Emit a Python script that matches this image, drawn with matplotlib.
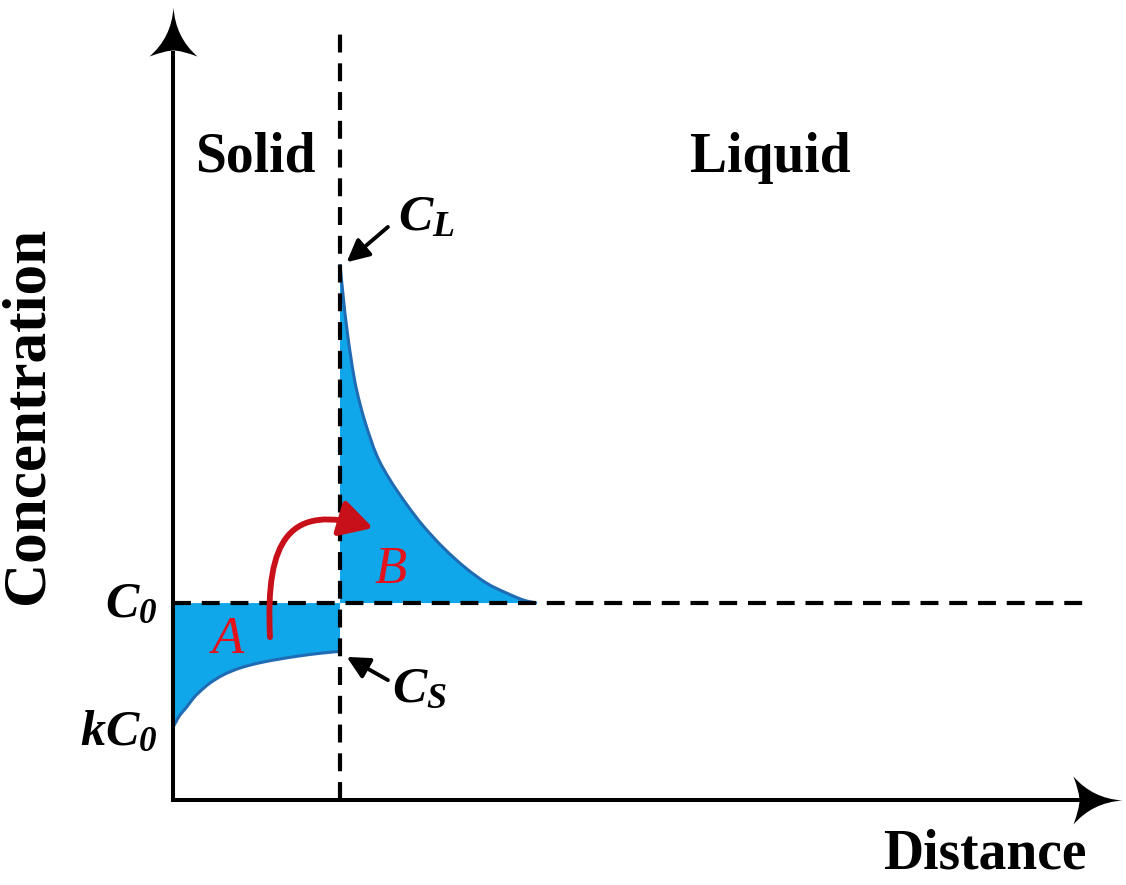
import numpy as np
import matplotlib
matplotlib.use("Agg")
import matplotlib.pyplot as plt
from matplotlib.path import Path
from matplotlib.patches import FancyArrowPatch, PathPatch

plt.rcParams['mathtext.fontset'] = 'custom'
plt.rcParams['mathtext.rm'] = 'Liberation Serif:bold:italic'
plt.rcParams['mathtext.it'] = 'Liberation Serif:bold:italic'
plt.rcParams['mathtext.bf'] = 'Liberation Serif:bold:italic'

# Concentration levels (units of C0)
c0 = 1.0
interface_x = 1.0

# Solid side profile: kC0 at the left rising to Cs at the interface
solid_x = [0.0, 0.02, 0.04, 0.08, 0.12, 0.16, 0.22, 0.30, 0.40, 0.52, 0.64, 0.76, 0.88, 1.0]
solid_y = [0.37, 0.40, 0.43, 0.47, 0.515, 0.55, 0.593, 0.635, 0.67, 0.697, 0.716, 0.732, 0.745, 0.755]

# Liquid side profile: CL at the interface decaying back to C0
liquid_x = [1.00, 1.02, 1.04, 1.07, 1.10, 1.15, 1.22, 1.30, 1.40, 1.50, 1.62, 1.75, 1.88, 2.00, 2.10, 2.18]
liquid_y = [2.72, 2.55, 2.40, 2.22, 2.08, 1.92, 1.75, 1.625, 1.50, 1.39, 1.28, 1.18, 1.10, 1.05, 1.015, 1.00]

FILL = '#10a6ea'
EDGE = '#1f6cb4'
RED = '#e3121b'
DARKRED = '#c8101a'


def smooth(xs, ys):
    # Catmull-Rom through the points, as cubic Bezier pieces
    pts = np.column_stack([xs, ys]).astype(float)
    n = len(pts)
    verts, codes = [pts[0]], [Path.MOVETO]
    for i in range(n - 1):
        p_prev = pts[max(i - 1, 0)]
        p_next = pts[min(i + 2, n - 1)]
        c1 = pts[i] + (pts[i + 1] - p_prev) / 6
        c2 = pts[i + 1] - (p_next - pts[i]) / 6
        verts += [c1, c2, pts[i + 1]]
        codes += [Path.CURVE4] * 3
    return verts, codes


def region(xs, ys, closing):
    verts, codes = smooth(xs, ys)
    for p in closing:
        verts.append(p)
        codes.append(Path.LINETO)
    verts.append(verts[0])
    codes.append(Path.CLOSEPOLY)
    return Path(verts, codes)


def head_marker(direction='up'):
    # concave arrow head, tip at the origin
    verts = np.array([
        [0, 0], [2, -30], [24, -49],
        [8, -43], [0, -43],
        [-8, -43], [-24, -49],
        [-2, -30], [0, 0], [0, 0]], dtype=float)
    codes = [Path.MOVETO, Path.CURVE3, Path.CURVE3,
             Path.CURVE3, Path.CURVE3,
             Path.CURVE3, Path.CURVE3,
             Path.CURVE3, Path.CURVE3, Path.CLOSEPOLY]
    if direction == 'right':
        verts = np.column_stack([verts[:, 1], -verts[:, 0]])
    return Path(verts, codes)


fig = plt.figure(figsize=(11.26, 8.85), dpi=100)
ax = fig.add_axes([0, 0, 1, 1])
ax.set_xlim(-1.036, 5.707)
ax.set_ylim(-0.431, 4.061)
ax.axis('off')

# shaded regions A and B
ax.add_patch(PathPatch(region(solid_x, solid_y, [(interface_x, c0), (solid_x[0], c0)]),
                       facecolor=FILL, lw=0, zorder=1))
ax.add_patch(PathPatch(Path(*smooth(solid_x, solid_y)), fill=False,
                       edgecolor=EDGE, lw=2.2, zorder=2))
ax.add_patch(PathPatch(region(liquid_x, liquid_y, [(interface_x, c0)]),
                       facecolor=FILL, lw=0, zorder=1))
ax.add_patch(PathPatch(Path(*smooth(liquid_x, liquid_y)), fill=False,
                       edgecolor=EDGE, lw=2.2, zorder=2))

# interface and C0 reference lines
ax.plot([interface_x, interface_x], [0, 3.91], color='black', lw=3,
        dashes=(4.3, 2.6), zorder=3)
ax.plot([0, 5.46], [c0, c0], color='black', lw=3,
        dashes=(4.3, 2.6), zorder=3)

# axes with arrow heads
ax.plot([0, 0], [0, 3.80], color='black', lw=2.9, zorder=4, solid_capstyle='butt')
ax.plot([-0.01, 5.45], [0, 0], color='black', lw=2.9, zorder=4, solid_capstyle='butt')
ax.plot(0, 4.027, marker=head_marker('up'), ms=70.6, mew=0, color='black', zorder=4)
ax.plot(5.681, 0, marker=head_marker('right'), ms=70.6, mew=0, color='black', zorder=4)

# solute transfer arrow from A to B
arc = Path([(0.581, 0.827), (0.551, 1.330), (0.701, 1.507), (1.198, 1.381)],
           [Path.MOVETO, Path.CURVE4, Path.CURVE4, Path.CURVE4])
ax.add_patch(FancyArrowPatch(path=arc,
                             arrowstyle='-|>,head_length=0.9,head_width=0.5',
                             mutation_scale=22, lw=4.2, color=DARKRED,
                             shrinkA=0, shrinkB=0, zorder=5))

# pointers to CL and CS
for tail, tip in [((1.287, 2.909), (1.04, 2.73)), ((1.287, 0.609), (1.04, 0.727))]:
    ax.annotate('', xy=tip, xytext=tail,
                arrowprops=dict(arrowstyle='-|>,head_length=0.9,head_width=0.45',
                                mutation_scale=15, lw=2.8, color='black',
                                shrinkA=0, shrinkB=0), zorder=5)

serif_bold = dict(family='Liberation Serif', weight='bold', color='black')
ax.text(0.491, 3.19, 'Solid', fontsize=40, ha='center', va='baseline', **serif_bold)
ax.text(3.575, 3.19, 'Liquid', fontsize=40, ha='center', va='baseline', **serif_bold)
ax.text(4.862, -0.345, 'Distance', fontsize=40, ha='center', va='baseline', **serif_bold)
ax.text(-0.874, 1.954, 'Concentration', fontsize=44, rotation=90,
        ha='center', va='center', **serif_bold)

ax.text(-0.096, 0.929, r'$C_0$', fontsize=36, ha='right', va='baseline')
ax.text(-0.096, 0.279, r'$kC_0$', fontsize=36, ha='right', va='baseline')
ax.text(1.347, 2.893, r'$C_L$', fontsize=37, ha='left', va='baseline')
ax.text(1.311, 0.497, r'$C_S$', fontsize=37, ha='left', va='baseline')

ax.text(0.33, 0.746, 'A', fontsize=38, style='italic', family='Liberation Serif',
        color=RED, ha='center', va='baseline', zorder=6)
ax.text(1.305, 1.10, 'B', fontsize=38, style='italic', family='Liberation Serif',
        color=RED, ha='center', va='baseline', zorder=6)

fig.savefig('out.png', dpi=100, facecolor='white')
